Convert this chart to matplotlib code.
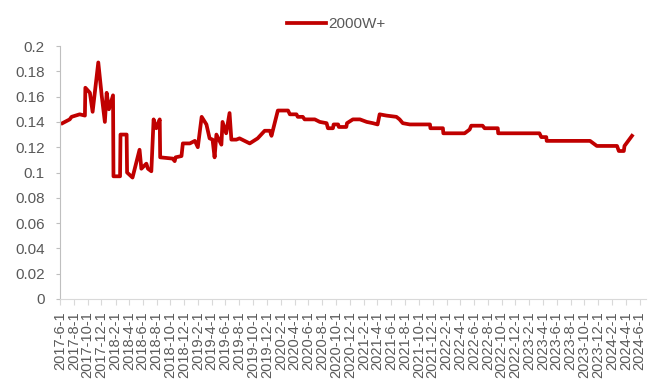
import matplotlib
matplotlib.use("Agg")
import matplotlib.pyplot as plt
import pandas as pd

plt.rcParams['font.family'] = ['Liberation Sans', 'DejaVu Sans']

series_name = "2000W+"

dates = [
    "2017-06-12", "2017-07-14", "2017-07-22", "2017-08-27", "2017-09-19", "2017-09-21",
    "2017-10-11", "2017-10-23", "2017-11-17", "2017-12-02", "2017-12-16", "2017-12-24",
    "2018-01-03", "2018-01-21", "2018-01-23", "2018-02-21", "2018-02-23", "2018-03-22",
    "2018-03-24", "2018-04-17", "2018-05-18", "2018-05-26", "2018-06-17", "2018-06-24",
    "2018-07-09", "2018-07-19", "2018-07-31", "2018-08-15", "2018-08-17", "2018-10-11",
    "2018-10-20", "2018-10-24", "2018-11-19", "2018-11-25", "2018-12-26", "2019-01-17",
    "2019-01-30", "2019-02-16", "2019-03-09", "2019-03-23", "2019-04-05", "2019-04-14",
    "2019-04-22", "2019-05-14", "2019-05-19", "2019-06-04", "2019-06-19", "2019-06-27",
    "2019-07-19", "2019-08-02", "2019-09-16", "2019-10-21", "2019-11-21", "2019-12-14",
    "2019-12-21", "2020-01-18", "2020-03-03", "2020-03-11", "2020-04-09", "2020-04-15",
    "2020-05-07", "2020-05-15", "2020-06-29", "2020-07-21", "2020-08-20", "2020-08-26",
    "2020-09-17", "2020-09-20", "2020-10-10", "2020-10-13", "2020-11-15", "2020-11-18",
    "2020-12-14", "2021-01-14", "2021-02-13", "2021-03-12", "2021-04-02", "2021-04-11",
    "2021-05-11", "2021-06-24", "2021-07-08", "2021-07-22", "2021-08-22", "2021-11-19",
    "2021-11-21", "2022-01-15", "2022-01-17", "2022-04-21", "2022-05-13", "2022-05-20",
    "2022-07-09", "2022-07-18", "2022-09-14", "2022-09-16", "2023-03-17", "2023-03-25",
    "2023-04-16", "2023-04-18", "2023-10-26", "2023-11-25", "2024-02-22", "2024-03-01",
    "2024-03-23", "2024-03-26", "2024-04-28",
]
values = [
    0.139, 0.142, 0.144, 0.146, 0.145, 0.167,
    0.163, 0.148, 0.187, 0.161, 0.140, 0.163,
    0.150, 0.161, 0.097, 0.097, 0.130, 0.130,
    0.100, 0.096, 0.118, 0.103, 0.107, 0.103,
    0.101, 0.142, 0.135, 0.142, 0.112, 0.111,
    0.109, 0.112, 0.113, 0.123, 0.123, 0.125,
    0.120, 0.144, 0.138, 0.127, 0.126, 0.112,
    0.130, 0.122, 0.140, 0.131, 0.147, 0.126,
    0.126, 0.127, 0.123, 0.127, 0.133, 0.133,
    0.129, 0.149, 0.149, 0.146, 0.146, 0.144,
    0.144, 0.142, 0.142, 0.140, 0.139, 0.135,
    0.135, 0.138, 0.138, 0.136, 0.136, 0.139,
    0.142, 0.142, 0.140, 0.139, 0.138, 0.146,
    0.145, 0.144, 0.142, 0.139, 0.138, 0.138,
    0.135, 0.135, 0.131, 0.131, 0.134, 0.137,
    0.137, 0.135, 0.135, 0.131, 0.131, 0.128,
    0.128, 0.125, 0.125, 0.121, 0.121, 0.117,
    0.117, 0.121, 0.129,
]

y_ticks = [0, 0.02, 0.04, 0.06, 0.08, 0.1, 0.12, 0.14, 0.16, 0.18, 0.2]
y_labels = ["0", "0.02", "0.04", "0.06", "0.08", "0.1", "0.12", "0.14", "0.16", "0.18", "0.2"]

x_ticks = pd.date_range("2017-06-01", "2024-06-01", freq="2MS")
x_labels = [f"{d.year}-{d.month}-{d.day}" for d in x_ticks]

grey = "#595959"
red = "#C00000"

fig = plt.figure(figsize=(6.59, 3.87), dpi=100)
ax = fig.add_axes([0.091, 0.2274, 0.890, 0.6537])

ax.plot(pd.to_datetime(dates), values, color=red, linewidth=2.7, label=series_name,
        solid_joinstyle="round")

ax.set_xlim(pd.Timestamp("2017-06-01"), pd.Timestamp("2024-07-01"))
ax.set_ylim(0, 0.2)

ax.set_yticks(y_ticks)
ax.set_yticklabels(y_labels)
ax.set_xticks(x_ticks)
ax.set_xticklabels(x_labels, rotation=90)

for s in ["top", "right"]:
    ax.spines[s].set_visible(False)
ax.spines["left"].set_color("#bfbfbf")
ax.spines["bottom"].set_color("#d9d9d9")
ax.tick_params(axis="y", colors="#bfbfbf", labelcolor=grey, labelsize=11, length=3, pad=8)
ax.tick_params(axis="x", colors="#d9d9d9", labelcolor=grey, labelsize=10.5, length=4, pad=5)

fig.legend(loc="center", bbox_to_anchor=(0.511, 0.938), frameon=False, fontsize=11,
           handlelength=2.5, handletextpad=0.2, labelcolor=grey)

fig.savefig("out.png", dpi=100)
